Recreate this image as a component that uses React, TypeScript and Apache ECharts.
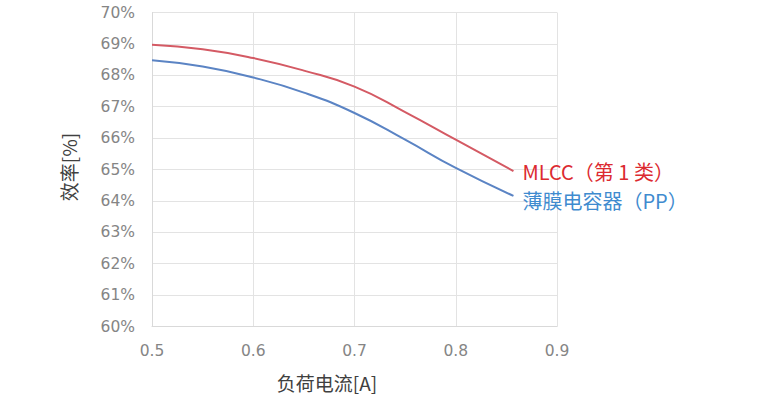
import React, { useEffect, useRef } from "react";
import * as echarts from "echarts";

const mlccX = [0.5, 0.55, 0.6, 0.65, 0.7, 0.75, 0.8, 0.857];
const mlccY = [68.97, 68.83, 68.55, 68.15, 67.64, 66.83, 65.95, 64.95];
const ppX = [0.5, 0.55, 0.6, 0.65, 0.7, 0.75, 0.8, 0.857];
const ppY = [68.48, 68.28, 67.93, 67.45, 66.8, 65.95, 65.05, 64.16];
const seriesNames = ["MLCC（第 1 类）", "薄膜电容器（PP）"];
const xTitle = "负荷电流[A]";
const yTitle = "效率[%]";

export default function App() {
  const ref = useRef<HTMLDivElement>(null);
  useEffect(() => {
    document.body.style.margin = "0";
    const chart = echarts.init(ref.current!, null, { renderer: "svg" });
    const font = "'Noto Sans CJK SC', 'Noto Sans', sans-serif";
    const tickFont = "'DejaVu Sans', sans-serif";
    const mk = (xs: number[], ys: number[]) => xs.map((x, i) => [x, ys[i]]);
    const lastM = [mlccX[mlccX.length - 1], mlccY[mlccY.length - 1]];
    const lastP = [ppX[ppX.length - 1], ppY[ppY.length - 1]];
    chart.setOption({
      animation: false,
      backgroundColor: "#ffffff",
      grid: { left: 152, right: 226, top: 12.5, bottom: 74.5 },
      xAxis: {
        type: "value",
        min: 0.5,
        max: 0.9,
        interval: 0.1,
        axisLine: { show: true, lineStyle: { color: "#d9d9d9" } },
        axisTick: { show: false },
        splitLine: { show: true, lineStyle: { color: "#e3e3e3" } },
        axisLabel: {
          color: "#858585",
          fontSize: 15.5,
          fontFamily: tickFont,
          margin: 16,
          formatter: (v: number) => v.toFixed(1),
        },
      },
      yAxis: {
        type: "value",
        min: 60,
        max: 70,
        interval: 1,
        axisLine: { show: true, lineStyle: { color: "#d9d9d9" } },
        axisTick: { show: false },
        splitLine: { show: true, lineStyle: { color: "#e3e3e3" } },
        axisLabel: {
          color: "#858585",
          fontSize: 15.5,
          fontFamily: tickFont,
          margin: 17,
          formatter: "{value}%",
        },
      },
      series: [
        {
          name: seriesNames[0],
          type: "line",
          smooth: 0.5,
          showSymbol: false,
          data: mk(mlccX, mlccY),
          lineStyle: { color: "#d45a64", width: 2 },
          itemStyle: { color: "#d45a64" },
          markPoint: {
            symbol: "circle",
            symbolSize: 0,
            data: [{ coord: lastM }],
            label: {
              show: true,
              position: "right",
              distance: 9,
              formatter: seriesNames[0],
              color: "#dc2a30",
              fontSize: 20,
              fontFamily: font,
            },
          },
        },
        {
          name: seriesNames[1],
          type: "line",
          smooth: 0.5,
          showSymbol: false,
          data: mk(ppX, ppY),
          lineStyle: { color: "#5b84c4", width: 2 },
          itemStyle: { color: "#5b84c4" },
          markPoint: {
            symbol: "circle",
            symbolSize: 0,
            data: [{ coord: lastP }],
            label: {
              show: true,
              position: "right",
              distance: 9,
              offset: [0, 5],
              formatter: seriesNames[1],
              color: "#3f8bcf",
              fontSize: 20,
              fontFamily: font,
            },
          },
        },
      ],
      graphic: [
        {
          type: "text",
          x: 327,
          y: 382,
          style: {
            text: xTitle,
            fill: "#404040",
            fontSize: 19,
            fontFamily: font,
            align: "center",
            verticalAlign: "middle",
          },
        },
        {
          type: "text",
          x: 68,
          y: 167,
          rotation: Math.PI / 2,
          style: {
            text: yTitle,
            fill: "#404040",
            fontSize: 19,
            fontFamily: font,
            align: "center",
            verticalAlign: "middle",
          },
        },
      ],
    });
    return () => chart.dispose();
  }, []);
  return <div ref={ref} style={{ width: 783, height: 401 }} />;
}
